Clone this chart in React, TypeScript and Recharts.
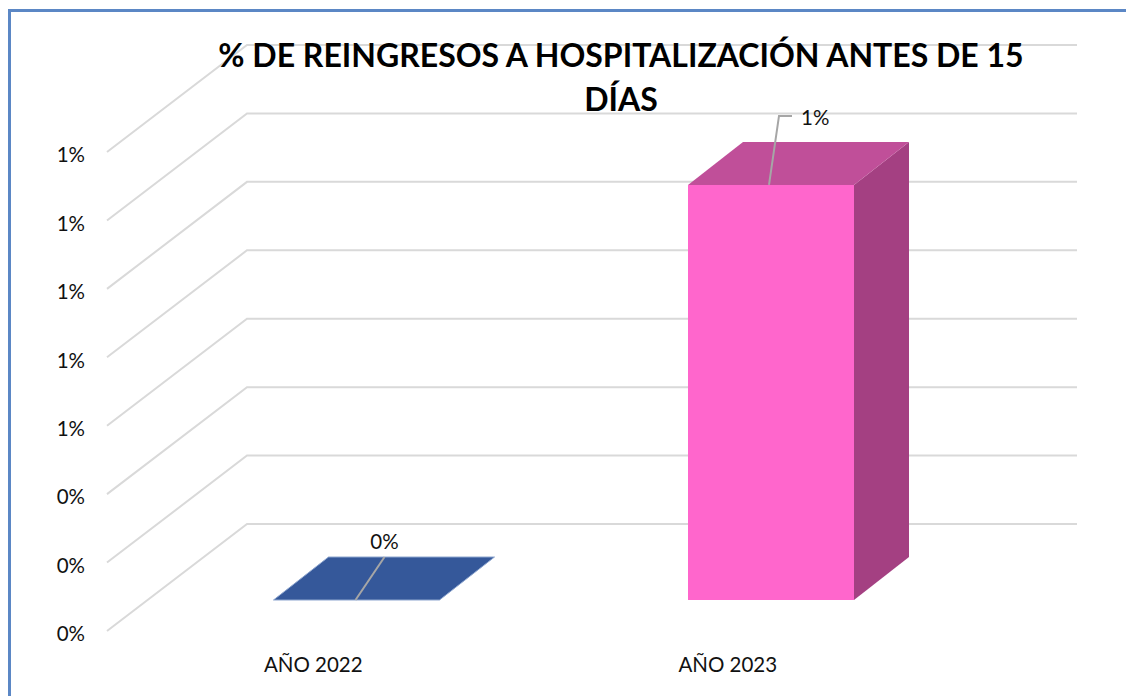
import { Bar, BarChart, CartesianGrid, LabelList, XAxis, YAxis } from "recharts";

const categories = ["AÑO 2022", "AÑO 2023"];
const values = [0, 1.213];
const yTicks = [0, 0.2, 0.4, 0.6, 0.8, 1.0, 1.2, 1.4];
const titleLines = ["% DE REINGRESOS A HOSPITALIZACIÓN ANTES DE 15", "DÍAS"];

const chartData = categories.map((name, i) => ({ name, value: values[i] }));

const fontFamily = "Lato, sans-serif";
const textColor = "#111111";
const labelSize = 20.5;

// fake 3D: how far the floor and the bars go back
const floorDx = 140;
const floorDy = 107;
const backRight = 1077;
const barShiftX = 42.5;
const barShiftY = 31;
const depthX = 55;
const depthY = 43;

const barColors = [
    { front: "#35589a", top: "#35589a", side: "#2a4679", edge: "#8ea6cf" },
    { front: "#ff66cc", top: "#c04f99", side: "#a44082", edge: "#f3a8dc" },
];

const percent = (v: number) => `${Math.round(v)}%`;

const GridLine = ({ x1, y1 }: any) => (
    <polyline
        points={`${x1},${y1} ${x1 + floorDx},${y1 - floorDy} ${backRight},${y1 - floorDy}`}
        fill="none"
        stroke="#d9d9d9"
        strokeWidth={2}
    />
);

const Box3D = ({ x, y, width, height, index }: any) => {
    const c = barColors[index];
    const left = x + barShiftX;
    const right = left + width;
    const top = y - barShiftY;
    const bottom = top + height;
    return (
        <g>
            <polygon
                points={`${right},${top} ${right + depthX},${top - depthY} ${right + depthX},${bottom - depthY} ${right},${bottom}`}
                fill={c.side}
            />
            <polygon
                points={`${left},${top} ${left + depthX},${top - depthY} ${right + depthX},${top - depthY} ${right},${top}`}
                fill={c.top}
                stroke={c.edge}
                strokeWidth={height > 0 ? 0 : 1}
            />
            <rect x={left} y={top} width={width} height={height} fill={c.front} />
        </g>
    );
};

const LeaderLabel = ({ x, y, width, value }: any) => {
    const cx = x + barShiftX + width / 2;
    const top = y - barShiftY;
    if (value > 0) {
        return (
            <g>
                <polyline
                    points={`${cx - 2},${top} ${cx + 8},${top - 69} ${cx + 21},${top - 69}`}
                    fill="none"
                    stroke="#a6a6a6"
                    strokeWidth={2}
                />
                <text x={cx + 30} y={top - 60} fontSize={labelSize} fontFamily={fontFamily} fill={textColor}>
                    {percent(value)}
                </text>
            </g>
        );
    }
    return (
        <g>
            <line x1={cx - 1} y1={top} x2={cx + 28} y2={top - 43} stroke="#a6a6a6" strokeWidth={2} />
            <text x={cx + 28} y={top - 51} textAnchor="middle" fontSize={labelSize} fontFamily={fontFamily} fill={textColor}>
                {percent(value)}
            </text>
        </g>
    );
};

export default function App() {
    return (
        <div style={{ position: "fixed", left: 0, top: 0, width: 1126, height: 696, background: "#ffffff", overflow: "hidden" }}>
            <div
                style={{
                    position: "absolute",
                    left: 8,
                    top: 9,
                    width: 1130,
                    height: 700,
                    border: "3px solid #5b87c5",
                    boxSizing: "border-box",
                }}
            />
            <BarChart
                width={1126}
                height={696}
                data={chartData}
                margin={{ top: 152, right: 190, bottom: 0, left: 0 }}
                style={{ position: "absolute", left: 0, top: 0 }}
            >
                <CartesianGrid vertical={false} horizontal={<GridLine />} horizontalValues={yTicks} />
                <YAxis
                    width={107}
                    domain={[0, 1.4]}
                    ticks={yTicks}
                    interval={0}
                    axisLine={false}
                    tickLine={false}
                    tickMargin={16}
                    tickFormatter={percent}
                    tick={{ fontSize: labelSize, fontFamily, fill: textColor, dy: 3 }}
                />
                <XAxis
                    dataKey="name"
                    height={65}
                    axisLine={false}
                    tickLine={false}
                    tickMargin={20}
                    tick={{ fontSize: labelSize, fontFamily, fill: textColor, dx: -1 }}
                />
                <Bar dataKey="value" barSize={166} shape={<Box3D />} isAnimationActive={false}>
                    <LabelList dataKey="value" content={<LeaderLabel />} />
                </Bar>
            </BarChart>
            <div
                style={{
                    position: "absolute",
                    left: 200,
                    top: 33,
                    width: 842,
                    fontFamily,
                    fontWeight: 700,
                    fontSize: 32,
                    lineHeight: "44px",
                    color: "#000000",
                }}
            >
                {titleLines.map((line) => (
                    <div key={line} style={{ display: "table", margin: "0 auto" }}>
                        {line}
                    </div>
                ))}
            </div>
        </div>
    );
}
